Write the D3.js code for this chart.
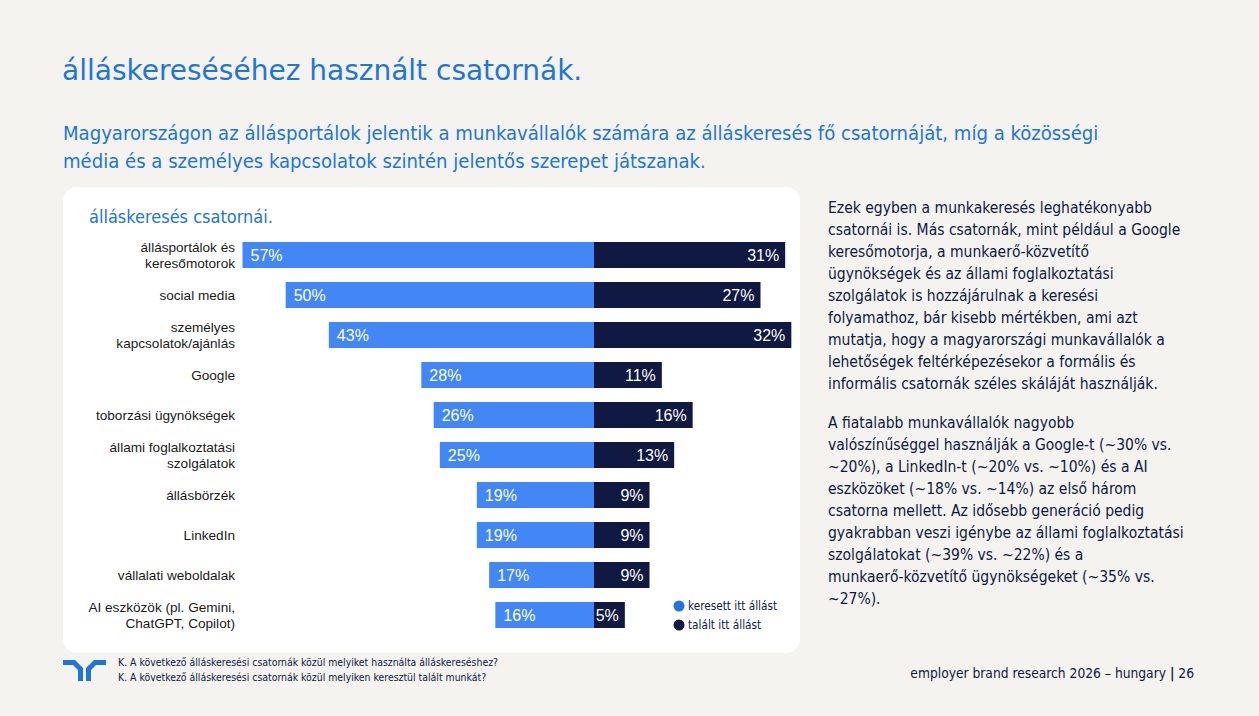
<!DOCTYPE html>
<html>
<head>
<meta charset="utf-8">
<script src="https://cdn.jsdelivr.net/npm/d3@7"></script>
<style>
  body { margin: 0; background: #f4f3f0; }
  svg { display: block; }
</style>
</head>
<body>
<div id="chart"></div>
<script>
const width = 1259;
const height = 716;

// Chart data
const categories = [
  "állásportálok és\nkeresőmotorok",
  "social media",
  "személyes\nkapcsolatok/ajánlás",
  "Google",
  "toborzási ügynökségek",
  "állami foglalkoztatási\nszolgálatok",
  "állásbörzék",
  "LinkedIn",
  "vállalati weboldalak",
  "AI eszközök (pl. Gemini,\nChatGPT, Copilot)"
];
const searched = [57, 50, 43, 28, 26, 25, 19, 19, 17, 16];
const found = [31, 27, 32, 11, 16, 13, 9, 9, 9, 5];
const seriesNames = ["keresett itt állást", "talált itt állást"];

const paragraph1 = [
  "Ezek egyben a munkakeresés leghatékonyabb",
  "csatornái is. Más csatornák, mint például a Google",
  "keresőmotorja, a munkaerő-közvetítő",
  "ügynökségek és az állami foglalkoztatási",
  "szolgálatok is hozzájárulnak a keresési",
  "folyamathoz, bár kisebb mértékben, ami azt",
  "mutatja, hogy a magyarországi munkavállalók a",
  "lehetőségek feltérképezésekor a formális és",
  "informális csatornák széles skáláját használják."
];
const paragraph2 = [
  "A fiatalabb munkavállalók nagyobb",
  "valószínűséggel használják a Google-t (~30% vs.",
  "~20%), a LinkedIn-t (~20% vs. ~10%) és a AI",
  "eszközöket (~18% vs. ~14%) az első három",
  "csatorna mellett. Az idősebb generáció pedig",
  "gyakrabban veszi igénybe az állami foglalkoztatási",
  "szolgálatokat (~39% vs. ~22%) és a",
  "munkaerő-közvetítő ügynökségeket (~35% vs.",
  "~27%)."
];
const footnotes = [
  "K. A következő álláskeresési csatornák közül melyiket használta álláskereséshez?",
  "K. A következő álláskeresési csatornák közül melyiken keresztül talált munkát?"
];

const blue = "#2175d9";
const barBlue = "#4287f5";
const navy = "#0f1941";
const tahoma = "'DejaVu Sans Condensed', 'DejaVu Sans', sans-serif";
const arial = "'Liberation Sans', Arial, sans-serif";

const svg = d3.select("#chart")
  .append("svg")
  .attr("width", width)
  .attr("height", height);

svg.append("rect")
  .attr("width", width)
  .attr("height", height)
  .attr("fill", "#f4f3f0");

// Headline and subtitle
svg.append("text")
  .attr("x", 62)
  .attr("y", 80)
  .attr("fill", blue)
  .style("font-family", "'DejaVu Sans', sans-serif")
  .style("font-size", "28px")
  .text("álláskereséséhez használt csatornák.");

const subtitle = [
  "Magyarországon az állásportálok jelentik a munkavállalók számára az álláskeresés fő csatornáját, míg a közösségi",
  "média és a személyes kapcsolatok szintén jelentős szerepet játszanak."
];
svg.append("g").selectAll("text")
  .data(subtitle)
  .enter()
  .append("text")
  .attr("x", 63)
  .attr("y", (d, i) => 140 + i * 28)
  .attr("fill", blue)
  .style("font-family", tahoma)
  .style("font-size", "20.1px")
  .text(d => d);

// White chart panel
svg.append("rect")
  .attr("x", 63)
  .attr("y", 187)
  .attr("width", 737)
  .attr("height", 466)
  .attr("rx", 14)
  .attr("fill", "#ffffff");

svg.append("text")
  .attr("x", 89)
  .attr("y", 223)
  .attr("fill", blue)
  .style("font-family", tahoma)
  .style("font-size", "18px")
  .text("álláskeresés csatornái.");

// Scales
const centerX = 594;
const xScale = d3.scaleLinear()
  .domain([0, 60])
  .range([0, 370]);

const yScale = d3.scaleBand()
  .domain(categories)
  .range([235, 635])
  .paddingInner(0.35)
  .paddingOuter(0.175);

const rows = svg.append("g")
  .selectAll("g")
  .data(categories)
  .enter()
  .append("g")
  .attr("transform", d => `translate(0, ${yScale(d)})`);

const bh = yScale.bandwidth();

// searched bars (left of centre)
rows.append("rect")
  .attr("x", (d, i) => centerX - xScale(searched[i]))
  .attr("y", 0)
  .attr("width", (d, i) => xScale(searched[i]))
  .attr("height", bh)
  .attr("fill", barBlue);

// found bars (right of centre)
rows.append("rect")
  .attr("x", centerX)
  .attr("y", 0)
  .attr("width", (d, i) => xScale(found[i]))
  .attr("height", bh)
  .attr("fill", navy);

rows.append("text")
  .attr("x", (d, i) => centerX - xScale(searched[i]) + 8)
  .attr("y", bh / 2 + 6)
  .attr("fill", "#ffffff")
  .style("font-family", arial)
  .style("font-size", "16px")
  .text((d, i) => `${searched[i]}%`);

rows.append("text")
  .attr("x", (d, i) => centerX + xScale(found[i]) - 6)
  .attr("y", bh / 2 + 6)
  .attr("text-anchor", "end")
  .attr("fill", "#ffffff")
  .style("font-family", arial)
  .style("font-size", "16px")
  .text((d, i) => `${found[i]}%`);

// category labels
rows.append("text")
  .attr("text-anchor", "end")
  .attr("fill", "#1a1a1a")
  .style("font-family", arial)
  .style("font-size", "13.6px")
  .each(function (d) {
    const lines = d.split("\n");
    const start = bh / 2 + 5 - (lines.length - 1) * 8;
    d3.select(this).selectAll("tspan")
      .data(lines)
      .enter()
      .append("tspan")
      .attr("x", 235)
      .attr("y", (l, j) => start + j * 16)
      .text(l => l);
  });

// Legend
const legend = svg.append("g")
  .attr("transform", "translate(679, 606)");

legend.selectAll("circle")
  .data(seriesNames)
  .enter()
  .append("circle")
  .attr("cx", 0)
  .attr("cy", (d, i) => i * 19)
  .attr("r", 5.5)
  .attr("fill", (d, i) => i === 0 ? blue : navy);

legend.selectAll("text")
  .data(seriesNames)
  .enter()
  .append("text")
  .attr("x", 9)
  .attr("y", (d, i) => i * 19 + 4)
  .attr("fill", navy)
  .style("font-family", tahoma)
  .style("font-size", "11.7px")
  .text(d => d);

// Right-hand commentary
const para = svg.append("g")
  .attr("fill", navy)
  .style("font-family", tahoma)
  .style("font-size", "15.5px");

para.selectAll("text.p1")
  .data(paragraph1)
  .enter()
  .append("text")
  .attr("class", "p1")
  .attr("x", 828)
  .attr("y", (d, i) => 213 + i * 22)
  .text(d => d);

para.selectAll("text.p2")
  .data(paragraph2)
  .enter()
  .append("text")
  .attr("class", "p2")
  .attr("x", 828)
  .attr("y", (d, i) => 428 + i * 22)
  .text(d => d);

// Footer: logo
const logo = svg.append("g").attr("fill", blue);
logo.append("path")
  .attr("d", "M63,660 H75 L83,668 V681 H78 V670 L73,665 H63 Z");
logo.append("path")
  .attr("d", "M103,660 H91 L83,668 V681 H88 V670 L93,665 H103 Z")
  .attr("transform", "translate(3,0)");

svg.append("g").selectAll("text")
  .data(footnotes)
  .enter()
  .append("text")
  .attr("x", 118)
  .attr("y", (d, i) => 666 + i * 15)
  .attr("fill", navy)
  .style("font-family", tahoma)
  .style("font-size", "10.4px")
  .text(d => d);

const footer = svg.append("text")
  .attr("x", 1194)
  .attr("y", 678)
  .attr("text-anchor", "end")
  .attr("fill", navy)
  .style("font-family", tahoma)
  .style("font-size", "13.7px");
footer.append("tspan").text("employer brand research 2026 – hungary ");
footer.append("tspan").style("font-weight", "bold").text("|");
footer.append("tspan").text(" 26");
</script>
</body>
</html>
